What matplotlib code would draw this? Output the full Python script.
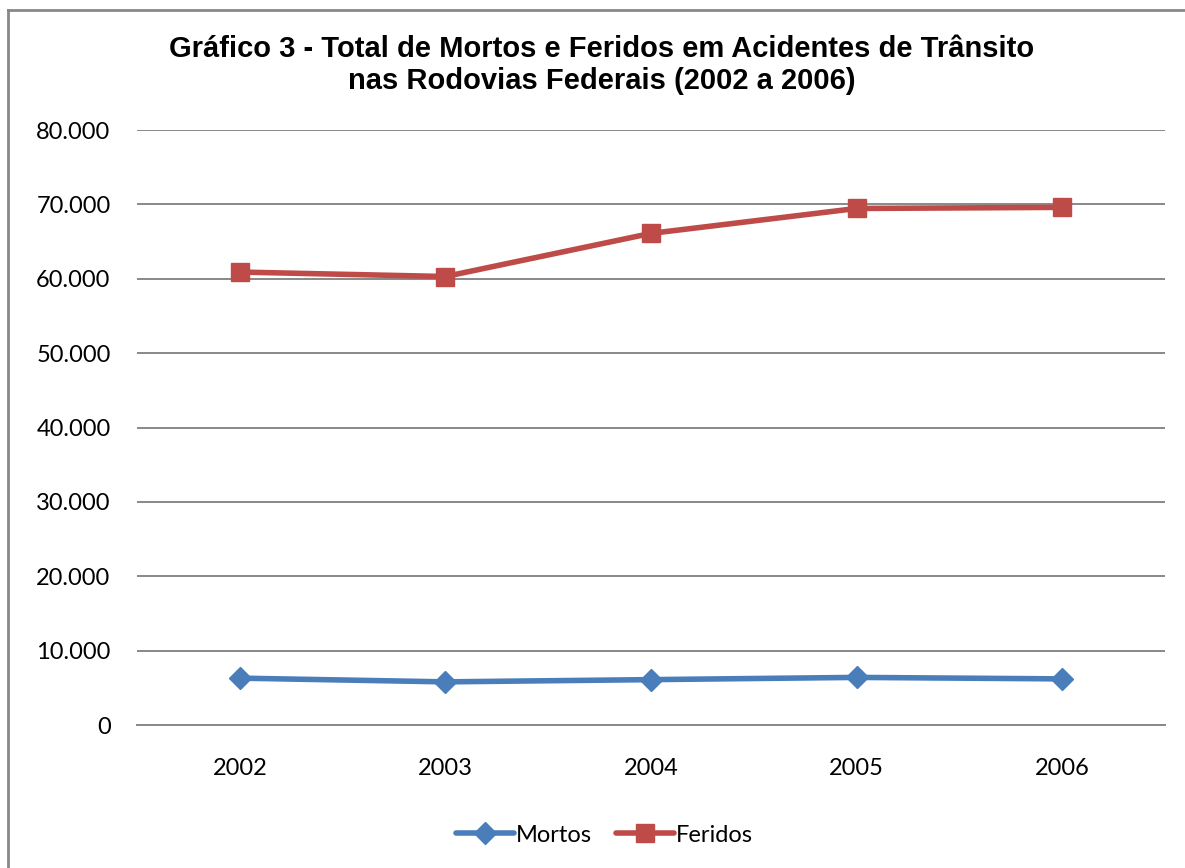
"""
Gráfico 3 - total de mortos e feridos nas rodovias federais, 2002-2006.
"""
import matplotlib
matplotlib.use("Agg")
import matplotlib.pyplot as plt
from matplotlib.lines import Line2D
from matplotlib.ticker import FuncFormatter

anos = ["2002", "2003", "2004", "2005", "2006"]
mortos = [6300, 5800, 6100, 6400, 6200]
feridos = [60900, 60300, 66100, 69450, 69600]

BLUE = "#4A7EBB"
RED = "#BE4B48"
GRID = "#888888"
TICK_FONT = "Lato"

fig = plt.figure(figsize=(11.85, 8.68), dpi=100)
ax = fig.add_axes([137 / 1185, 1 - 725 / 868, (1165 - 137) / 1185, (725 - 130) / 868])

x = range(len(anos))
ax.plot(x, mortos, color=BLUE, lw=4, marker="D", markersize=11,
        label="Mortos", solid_capstyle="round", zorder=3)
ax.plot(x, feridos, color=RED, lw=4, marker="s", markersize=13,
        label="Feridos", solid_capstyle="round", zorder=3)

ax.set_xlim(-0.5, len(anos) - 0.5)
ax.set_ylim(0, 80000)
ax.set_yticks(range(0, 80001, 10000))
ax.yaxis.set_major_formatter(
    FuncFormatter(lambda v, _: "0" if v == 0 else f"{int(v):,}".replace(",", "."))
)
ax.set_xticks(list(x))
ax.set_xticklabels(anos)

ax.grid(axis="y", color=GRID, lw=1.4)
ax.set_axisbelow(True)
for side in ["top", "right", "left"]:
    ax.spines[side].set_visible(False)
ax.spines["bottom"].set_color(GRID)
ax.spines["bottom"].set_linewidth(1.4)
ax.tick_params(axis="both", length=0, labelsize=17)
ax.tick_params(axis="y", pad=19)
ax.tick_params(axis="x", pad=24)
for lab in ax.get_xticklabels() + ax.get_yticklabels():
    lab.set_fontfamily(TICK_FONT)

fig.text(0.508, 1 - 65 / 868,
         "Gráfico 3 - Total de Mortos e Feridos em Acidentes de Trânsito\n"
         "nas Rodovias Federais (2002 a 2006)",
         ha="center", va="center", fontsize=21, fontweight="bold",
         family="Liberation Sans", linespacing=1.22)

leg = fig.legend(loc="center", bbox_to_anchor=(0.51, 1 - 835 / 868), ncol=2,
                 frameon=False, handlelength=2.45, handletextpad=0.1,
                 columnspacing=1.0, prop={"family": TICK_FONT, "size": 17})

# outer chart frame (left and top edges visible)
fig.add_artist(Line2D([8 / 1185, 8 / 1185], [0, 1 - 10 / 868],
                      transform=fig.transFigure, color="#888888", lw=2))
fig.add_artist(Line2D([8 / 1185, 1], [1 - 10 / 868, 1 - 10 / 868],
                      transform=fig.transFigure, color="#888888", lw=2))

fig.savefig("out.png", dpi=100)
